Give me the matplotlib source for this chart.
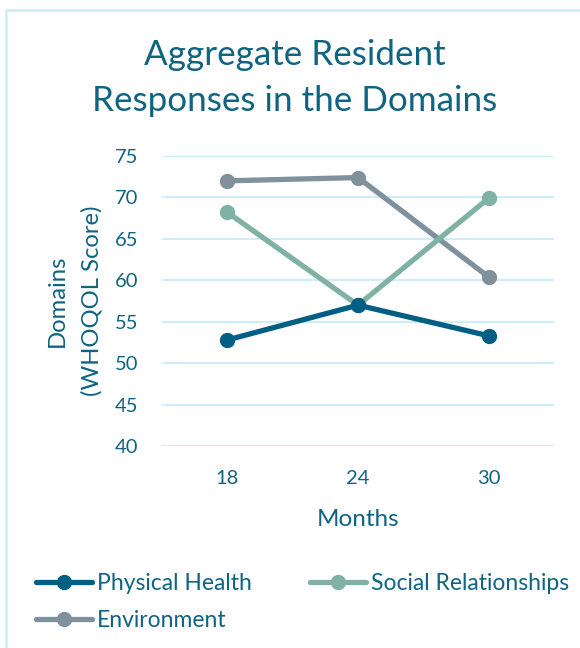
import matplotlib
matplotlib.use("Agg")
import matplotlib.pyplot as plt
from matplotlib.patches import Rectangle

months = ["18", "24", "30"]
physical_health = [52.8, 57.0, 53.3]
social_relationships = [68.2, 57.0, 69.9]
environment = [72.0, 72.4, 60.4]
y_ticks = [40, 45, 50, 55, 60, 65, 70, 75]
y_label_lines = ["Domains", "(WHOQOL Score)"]

TEXT = "#0f6482"
GRID = "#cdeef9"
COLORS = {"Physical Health": "#005f83",
          "Social Relationships": "#80b2a4",
          "Environment": "#7f919d"}

plt.rcParams["font.family"] = ["Lato", "DejaVu Sans"]

W, H = 580, 648
fig = plt.figure(figsize=(W / 100, H / 100), dpi=100)
ax = fig.add_axes([162 / W, 1 - 446 / H, (554 - 162) / W, (446 - 156) / H])

x = list(range(len(months)))
series = [("Physical Health", physical_health),
          ("Social Relationships", social_relationships),
          ("Environment", environment)]
# draw environment behind the others, physical health on top
order = {"Environment": 1, "Social Relationships": 2, "Physical Health": 3}
lines = {}
for name, vals in series:
    (ln,) = ax.plot(x, vals, color=COLORS[name], lw=3.8, marker="o", ms=10,
                    solid_capstyle="round", label=name, zorder=order[name],
                    clip_on=False)
    lines[name] = ln

ax.set_xlim(-0.5, 2.5)
ax.set_ylim(40, 75)
ax.set_yticks(y_ticks)
ax.set_xticks(x)
ax.set_xticklabels(months)
ax.grid(axis="y", color=GRID, lw=1.5)
ax.set_axisbelow(True)
for s in ax.spines.values():
    s.set_visible(False)
ax.tick_params(length=0, colors=TEXT, labelsize=14.5)
ax.tick_params(axis="y", pad=17)
ax.tick_params(axis="x", pad=17)

ax.set_xlabel("Months", color=TEXT, fontsize=17.5, labelpad=16)

# two-line y axis title, each line placed on its own column
y_mid = 1 - 301 / H
for line, xpix in zip(y_label_lines, [57, 92]):
    fig.text(xpix / W, y_mid, line, rotation=90, ha="center", va="center",
             color=TEXT, fontsize=17.2)

fig.text(0.508, 1 - 78 / H, "Aggregate Resident\nResponses in the Domains",
         ha="center", va="center", color=TEXT, fontsize=25.2, linespacing=1.57)

# column-major filling: this order puts Physical Health and Social
# Relationships on the first row, Environment alone on the second
leg_order = ["Physical Health", "Environment", "Social Relationships"]
leg = fig.legend([lines[n] for n in leg_order], leg_order, ncol=2,
                 loc="upper left", bbox_to_anchor=(27 / W, 1 - 564 / H),
                 frameon=False, fontsize=16.5, handlelength=2.45,
                 handletextpad=0.22, columnspacing=2.5, labelspacing=0.67,
                 borderaxespad=0)
for t in leg.get_texts():
    t.set_color(TEXT)

fig.patches.append(Rectangle((6 / W, -0.1), 1.2, 1 - 10 / H + 0.1,
                             transform=fig.transFigure, fill=False,
                             edgecolor="#cbedf9", lw=1.8))

fig.savefig("out.png", dpi=100, facecolor="white")
